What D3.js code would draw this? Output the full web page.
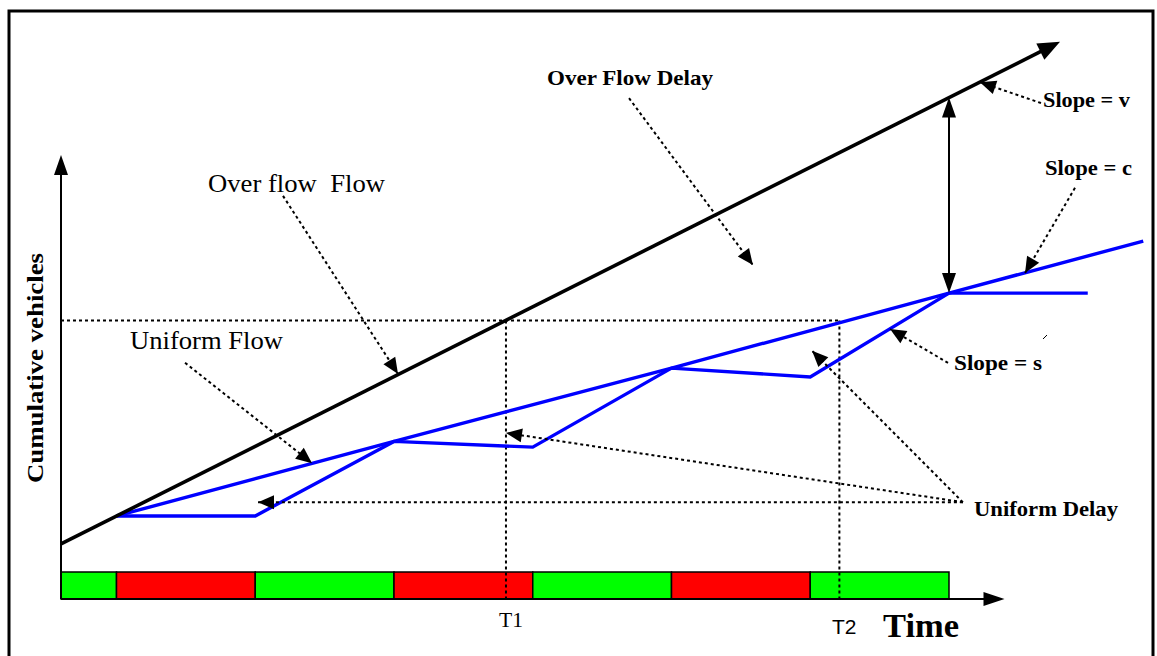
<!DOCTYPE html>
<html>
<head>
<meta charset="utf-8">
<script src="https://cdn.jsdelivr.net/npm/d3@7"></script>
<style>
  html, body { margin: 0; padding: 0; background: #fff; }
  svg { display: block; }
</style>
</head>
<body>
<div id="chart"></div>
<script>
// Signal phases (time units)
const phases = [
    { start: 0, end: 4, state: 'green' },
    { start: 4, end: 14, state: 'red' },
    { start: 14, end: 24, state: 'green' },
    { start: 24, end: 34, state: 'red' },
    { start: 34, end: 44, state: 'green' },
    { start: 44, end: 54, state: 'red' },
    { start: 54, end: 64, state: 'green' }
];

// Cumulative vehicle curves [time, vehicles]
const overflowLine = [[0, 12.4], [72, 125.5]];
const arrivalCurve = [[4, 18.7], [24, 35.5], [44, 52.0], [64, 68.9], [78, 80.6]];
const departureCurve = [[4, 18.7], [14, 18.7], [24, 35.5], [34, 34.2], [44, 52.0], [54, 50.0], [64, 68.9], [74, 68.9]];

// Reference times and level
const T1 = 32.07;
const T2 = 56.1;
const refLevel = 62.7;
const delayLevel = 21.8;

// Annotation pointers [from, to] in [time, vehicles]
const pointers = [
    [[16.0, 90.8], [24.29, 50.7]],   // Over flow Flow
    [[8.94, 53.2], [18.09, 30.6]],   // Uniform Flow
    [[40.94, 112.8], [49.87, 75.2]], // Over Flow Delay
    [[70.63, 111.7], [66.23, 116.4]], // Slope = v
    [[73.08, 92.6], [69.48, 73.4]],  // Slope = c
    [[63.93, 53.2], [59.75, 60.8]],  // Slope = s
    [[65.0, delayLevel], [14.2, delayLevel]], // Uniform Delay
    [[65.0, delayLevel], [32.07, 37.4]],
    [[65.0, delayLevel], [54.13, 55.9]]
];

const dimensions = { width: 1157, height: 656 };

const svg = d3.select('#chart')
    .append('svg')
    .attr('width', dimensions.width)
    .attr('height', dimensions.height);

const x = d3.scaleLinear().domain([0, 64]).range([61, 949]);
const y = d3.scaleLinear().domain([0, 100]).range([599, 155]);

const serif = '"Liberation Serif", "Times New Roman", serif';

// Frame
svg.append('rect')
    .attr('x', 9).attr('y', 11)
    .attr('width', 1144).attr('height', 660)
    .attr('fill', 'none')
    .attr('stroke', '#000')
    .attr('stroke-width', 3);

function arrowHead(g, p0, p1, len, half) {
    const dx = p1[0] - p0[0], dy = p1[1] - p0[1];
    const d = Math.hypot(dx, dy);
    const ux = dx / d, uy = dy / d;
    const bx = p1[0] - ux * len, by = p1[1] - uy * len;
    g.append('polygon')
        .attr('points', [
            [p1[0], p1[1]],
            [bx - uy * half, by + ux * half],
            [bx + uy * half, by - ux * half]
        ].map(p => p.join(',')).join(' '))
        .attr('fill', '#000');
}

// Signal bar
const barH = 27;
svg.append('g')
    .selectAll('rect')
    .data(phases)
    .join('rect')
    .attr('x', d => x(d.start))
    .attr('y', y(0) - barH)
    .attr('width', d => x(d.end) - x(d.start))
    .attr('height', barH)
    .attr('fill', d => d.state === 'green' ? '#00ff00' : '#ff0000')
    .attr('stroke', '#000')
    .attr('stroke-width', 1.5);

// Axes
const axes = svg.append('g');
axes.append('line')
    .attr('x1', x(0)).attr('y1', y(0))
    .attr('x2', x(0)).attr('y2', y(100) + 18)
    .attr('stroke', '#000').attr('stroke-width', 2);
arrowHead(axes, [x(0), y(0)], [x(0), y(100)], 20, 7);
axes.append('line')
    .attr('x1', x(0)).attr('y1', y(0))
    .attr('x2', x(68) - 18).attr('y2', y(0))
    .attr('stroke', '#000').attr('stroke-width', 2);
arrowHead(axes, [x(0), y(0)], [x(68), y(0)], 21, 7);

// Dotted guides
const dotted = svg.append('g')
    .attr('stroke', '#000')
    .attr('stroke-width', 2)
    .attr('stroke-dasharray', '3,3')
    .attr('fill', 'none');
dotted.append('line')
    .attr('x1', x(0)).attr('y1', y(refLevel))
    .attr('x2', x(T2)).attr('y2', y(refLevel));
[T1, T2].forEach(t => {
    dotted.append('line')
        .attr('x1', x(t)).attr('y1', y(refLevel))
        .attr('x2', x(t)).attr('y2', y(0));
});

// Curves
const line = d3.line().x(d => x(d[0])).y(d => y(d[1]));

svg.append('path')
    .datum(arrivalCurve)
    .attr('d', line)
    .attr('fill', 'none')
    .attr('stroke', '#0000ff')
    .attr('stroke-width', 3.4);
svg.append('path')
    .datum(departureCurve)
    .attr('d', line)
    .attr('fill', 'none')
    .attr('stroke', '#0000ff')
    .attr('stroke-width', 3.4)
    .attr('stroke-linejoin', 'miter');

const ov = svg.append('g');
const ovStart = [x(overflowLine[0][0]), y(overflowLine[0][1])];
const ovEnd = [x(overflowLine[1][0]), y(overflowLine[1][1])];
const ovLen = Math.hypot(ovEnd[0] - ovStart[0], ovEnd[1] - ovStart[1]);
ov.append('line')
    .attr('x1', ovStart[0]).attr('y1', ovStart[1])
    .attr('x2', ovEnd[0] - (ovEnd[0] - ovStart[0]) / ovLen * 18)
    .attr('y2', ovEnd[1] - (ovEnd[1] - ovStart[1]) / ovLen * 18)
    .attr('stroke', '#000').attr('stroke-width', 3.6);
arrowHead(ov, ovStart, ovEnd, 22, 9);

// Vertical double arrow between overflow line and arrival curve
const vArrow = svg.append('g');
const vTop = [x(64), y(overflowLine[0][1] + (overflowLine[1][1] - overflowLine[0][1]) * 64 / 72)];
const vBot = [x(64), y(arrivalCurve[3][1])];
vArrow.append('line')
    .attr('x1', vTop[0]).attr('y1', vTop[1] + 15)
    .attr('x2', vBot[0]).attr('y2', vBot[1] - 15)
    .attr('stroke', '#000').attr('stroke-width', 2);
arrowHead(vArrow, vBot, vTop, 20, 7);
arrowHead(vArrow, vTop, vBot, 20, 7);

// Annotation pointers
const ptrs = svg.append('g');
pointers.forEach(([a, b]) => {
    const p0 = [x(a[0]), y(a[1])];
    const p1 = [x(b[0]), y(b[1])];
    ptrs.append('line')
        .attr('x1', p0[0]).attr('y1', p0[1])
        .attr('x2', p1[0]).attr('y2', p1[1])
        .attr('stroke', '#000')
        .attr('stroke-width', 2)
        .attr('stroke-dasharray', '3,3');
    arrowHead(ptrs, p0, p1, 16, 7);
});

// stray tick mark
svg.append('line')
    .attr('x1', 1043).attr('y1', 339)
    .attr('x2', 1047).attr('y2', 335)
    .attr('stroke', '#000').attr('stroke-width', 1);

// Labels
const labels = [
    { text: 'Over flow\u00a0 Flow', x: 208, y: 192, size: 26, weight: 'normal', w: 177 },
    { text: 'Uniform Flow', x: 130, y: 349, size: 26, weight: 'normal', w: 153 },
    { text: 'Over Flow Delay', x: 547, y: 85, size: 22, weight: 'bold', w: 166 },
    { text: 'Slope = v', x: 1043, y: 107, size: 22, weight: 'bold', w: 87 },
    { text: 'Slope = c', x: 1045, y: 175, size: 22, weight: 'bold', w: 87 },
    { text: 'Slope = s', x: 954, y: 370, size: 22, weight: 'bold', w: 88 },
    { text: 'Uniform Delay', x: 974, y: 516, size: 22, weight: 'bold', w: 144 },
    { text: 'T1', x: 499, y: 627, size: 21, weight: 'normal', w: 24 },
    { text: 'Time', x: 883, y: 637, size: 34, weight: 'bold', w: 76 }
];

svg.append('g')
    .selectAll('text')
    .data(labels)
    .join('text')
    .attr('x', d => d.x)
    .attr('y', d => d.y)
    .attr('font-family', serif)
    .attr('font-size', d => d.size)
    .attr('font-weight', d => d.weight)
    .attr('textLength', d => d.w)
    .attr('lengthAdjust', 'spacingAndGlyphs')
    .attr('fill', '#000')
    .text(d => d.text);

svg.append('text')
    .attr('x', 832).attr('y', 634)
    .attr('font-family', '"Liberation Sans", Arial, sans-serif')
    .attr('font-size', 21)
    .text('T2');

svg.append('text')
    .attr('transform', 'translate(43, 368) rotate(-90)')
    .attr('text-anchor', 'middle')
    .attr('font-family', serif)
    .attr('font-size', 24)
    .attr('font-weight', 'bold')
    .attr('textLength', 230)
    .attr('lengthAdjust', 'spacingAndGlyphs')
    .text('Cumulative vehicles');
</script>
</body>
</html>
